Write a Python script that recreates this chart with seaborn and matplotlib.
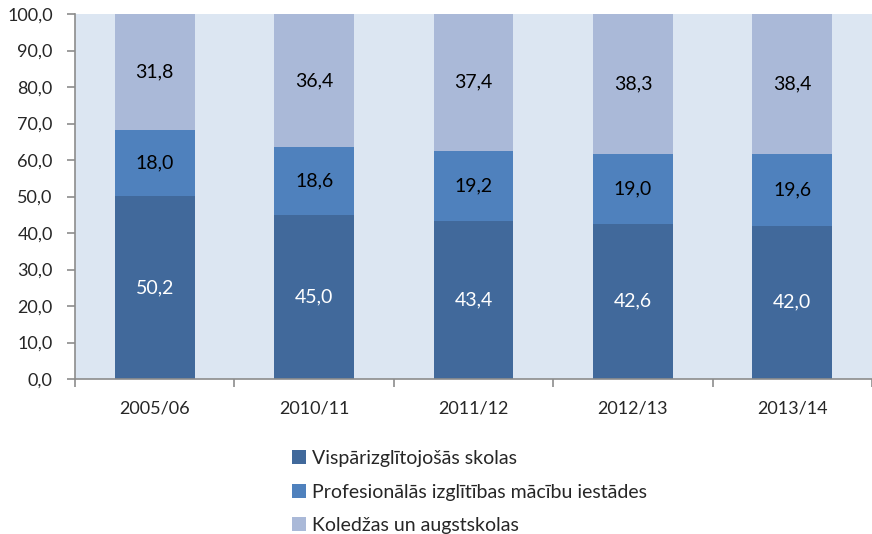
import matplotlib.pyplot as plt
import seaborn as sns
import pandas as pd
import numpy as np

years = ['2005/06', '2010/11', '2011/12', '2012/13', '2013/14']
general = [50.2, 45.0, 43.4, 42.6, 42.0]
vocational = [18.0, 18.6, 19.2, 19.0, 19.6]
higher = [31.8, 36.4, 37.4, 38.3, 38.4]

series_names = ['Vispārizglītojošās skolas',
                'Profesionālās izglītības mācību iestādes',
                'Koledžas un augstskolas']
colors = ['#41699b', '#4f81bd', '#aab9d8']
label_colors = ['white', 'black', 'black']

sns.set_style('white')
plt.rcParams['font.family'] = ['Lato', 'DejaVu Sans']

fig = plt.figure(figsize=(8.72, 5.34), dpi=100)
ax = fig.add_axes([75 / 872, 1 - 379 / 534, 797 / 872, 365 / 534])
ax.set_facecolor('#dce6f2')

bottom = np.zeros(len(years))
for name, vals, color, lc in zip(series_names, [general, vocational, higher], colors, label_colors):
    df = pd.DataFrame({'year': years, 'value': vals})
    sns.barplot(data=df, x='year', y='value', bottom=bottom, color=color, width=0.5,
                saturation=1, ax=ax, label=name, edgecolor='none')
    for i, v in enumerate(vals):
        ax.text(i, bottom[i] + v / 2, f'{v:.1f}'.replace('.', ','), ha='center', va='center',
                color=lc, fontsize=14)
    bottom = bottom + np.array(vals)

handles, labels = ax.get_legend_handles_labels()
if ax.get_legend() is not None:
    ax.get_legend().remove()

ax.set_xlim(-0.5, len(years) - 0.5)
ax.set_ylim(0, 100)
ax.set_yticks(np.arange(0, 101, 10))
ax.set_yticklabels([f'{t:.1f}'.replace('.', ',') for t in np.arange(0, 101, 10)])
ax.set_xticks(range(len(years)))
ax.set_xticklabels(years)
ax.set_xticks(np.arange(-0.5, len(years), 1), minor=True)
ax.tick_params(axis='x', which='major', bottom=False, pad=12, labelsize=13)
ax.tick_params(axis='x', which='minor', bottom=True, length=6, width=1.2, color='#8c8c8c', direction='out')
ax.tick_params(axis='y', left=True, length=6, width=1.2, color='#8c8c8c', direction='out', labelsize=13, pad=10)
ax.set_xlabel('')
ax.set_ylabel('')
for s in ['top', 'right']:
    ax.spines[s].set_visible(False)
for s in ['left', 'bottom']:
    ax.spines[s].set_color('#8c8c8c')
    ax.spines[s].set_linewidth(1.2)

fig.legend(handles, labels, loc='upper left', bbox_to_anchor=(292 / 872, 1 - 450 / 534),
           frameon=False, fontsize=14, handlelength=0.7, handleheight=0.7,
           handletextpad=0.35, labelspacing=0.85, borderaxespad=0, borderpad=0)

fig.savefig('out.png', dpi=100)
